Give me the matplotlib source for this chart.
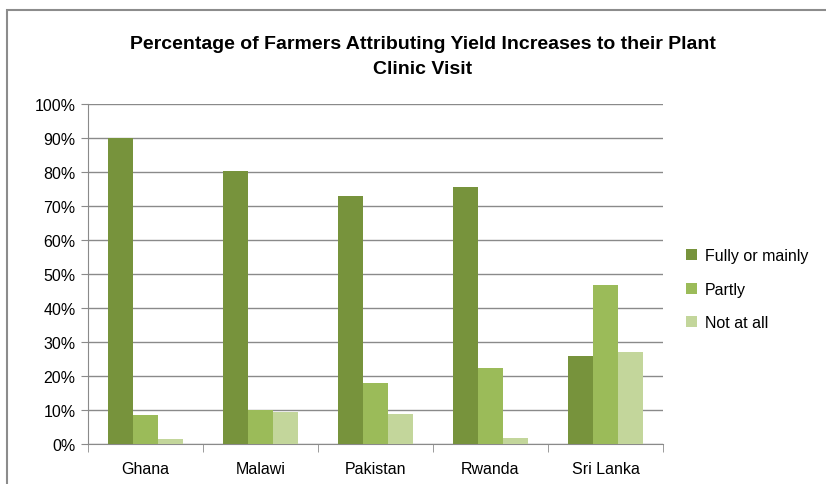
import matplotlib
matplotlib.use("Agg")
import matplotlib.pyplot as plt
import numpy as np
from matplotlib.patches import Rectangle
from matplotlib.ticker import FixedLocator, PercentFormatter

countries = ["Ghana", "Malawi", "Pakistan", "Rwanda", "Sri Lanka"]
series_names = ["Fully or mainly", "Partly", "Not at all"]
fully = [90.0, 80.3, 73.0, 75.5, 26.0]
partly = [8.5, 10.0, 17.9, 22.5, 46.7]
not_at_all = [1.5, 9.3, 8.8, 1.8, 27.1]
colors = ["#77933C", "#9BBB59", "#C3D69B"]

plt.rcParams["font.family"] = ["Liberation Sans", "DejaVu Sans"]

fig = plt.figure(figsize=(8.26, 4.85), dpi=100)
ax = fig.add_axes([88 / 826, 40 / 485, 575 / 826, 340 / 485])

# chart frame, only top and left edges fall inside the canvas
fig.patches.append(Rectangle((7 / 826, -0.1), 1.2, (485 - 11) / 485 + 0.1,
                             transform=fig.transFigure, fill=False,
                             edgecolor="#8c8c8c", linewidth=1.5))

x = np.arange(len(countries))
width = 0.22
for i, (vals, name) in enumerate(zip([fully, partly, not_at_all], series_names)):
    ax.bar(x + (i - 1) * width, vals, width, color=colors[i], label=name, zorder=3)

ax.set_xlim(-0.5, len(countries) - 0.5)
ax.set_ylim(0, 100)
ax.set_yticks(np.arange(0, 101, 10))
ax.yaxis.set_major_formatter(PercentFormatter(decimals=0))
ax.yaxis.grid(True, color="#8a8a8a", linewidth=1, zorder=0)
ax.set_axisbelow(True)

ax.set_xticks(x)
ax.set_xticklabels(countries)
ax.xaxis.set_minor_locator(FixedLocator(np.arange(-0.5, len(countries), 1)))
ax.tick_params(axis="x", which="major", length=0, pad=12, labelsize=11.5)
ax.tick_params(axis="x", which="minor", length=6, color="#8a8a8a", direction="out")
ax.tick_params(axis="y", length=5, color="#8a8a8a", labelsize=11.5, pad=4)

for side in ["top", "right"]:
    ax.spines[side].set_visible(False)
for side in ["left", "bottom"]:
    ax.spines[side].set_color("#8a8a8a")

fig.text(0.5 * (125 + 720) / 826, 1 - 57 / 485,
         "Percentage of Farmers Attributing Yield Increases to their Plant\nClinic Visit",
         ha="center", va="center", fontsize=14, fontweight="bold", linespacing=1.65)

ax.legend(loc="center left", bbox_to_anchor=(1.015, 0.455), frameon=False,
          fontsize=11.5, handlelength=0.7, handleheight=0.7, labelspacing=1.15,
          handletextpad=0.5)

fig.savefig("out.png", dpi=100)
